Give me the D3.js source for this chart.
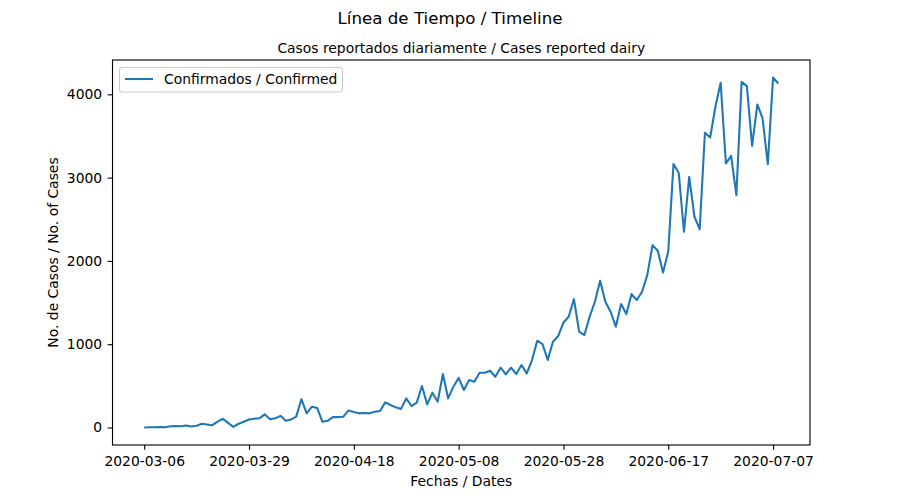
<!DOCTYPE html>
<html>
<head>
<meta charset="utf-8">
<script src="https://cdn.jsdelivr.net/npm/d3@7"></script>
<style>
  html, body { margin: 0; padding: 0; background: #fff; }
  svg { display: block; font-family: "DejaVu Sans", sans-serif; }
</style>
</head>
<body>
<svg id="chart" width="900" height="500"></svg>
<script>
// ---- Data ----
const confirmed = [
  0, 2, 3, 5, 4, 15, 18, 14, 25, 12, 22, 45, 35, 28, 70, 105, 55, 8, 45, 70, 95,
  105, 110, 158, 100, 110, 140, 80, 95, 130, 340, 170, 250, 235, 70, 80, 125, 125, 130, 205, 185,
  170, 175, 170, 190, 198, 302, 270, 242, 222, 350, 258, 298, 498, 278, 418, 310, 642, 350, 490, 595,
  450, 570, 550, 658, 658, 682, 610, 718, 638, 718, 642, 750, 650, 810, 1042, 1002, 810, 1030, 1098, 1260,
  1330, 1542, 1150, 1110, 1330, 1510, 1762, 1510, 1390, 1210, 1482, 1362, 1602, 1530, 1630, 1830, 2190, 2122, 1862, 2112,
  3162, 3058, 2350, 3010, 2530, 2382, 3538, 3482, 3850, 4138, 3170, 3262, 2790, 4150, 4098, 3382, 3878, 3710, 3162, 4202, 4130
];
const xTickIndex = [0, 20, 40, 60, 80, 100, 120];
const xTickLabels = ["2020-03-06", "2020-03-29", "2020-04-18", "2020-05-08", "2020-05-28", "2020-06-17", "2020-07-07"];
const yTicks = [0, 1000, 2000, 3000, 4000];
const suptitle = "Línea de Tiempo / Timeline";
const title = "Casos reportados diariamente / Cases reported dairy";
const xLabel = "Fechas / Dates";
const yLabel = "No. de Casos / No. of Cases";
const seriesName = "Confirmados / Confirmed";

// ---- Layout ----
const W = 900, H = 500;
const mLeft = 112.5, mRight = 810, mTop = 60, mBottom = 445;
const FS = 13.89;
const color = "#1f77b4";

const svg = d3.select("#chart");

const n = confirmed.length;
const xm = (n - 1) * 0.05;
const x = d3.scaleLinear().domain([-xm, n - 1 + xm]).range([mLeft, mRight]);
const ymax = d3.max(confirmed), ymin = d3.min(confirmed);
const ym = (ymax - ymin) * 0.05;
const y = d3.scaleLinear().domain([ymin - ym, ymax + ym]).range([mBottom, mTop]);

// line
const line = d3.line().x((d, i) => x(i)).y(d => y(d));
svg.append("path")
  .datum(confirmed)
  .attr("d", line)
  .attr("fill", "none")
  .attr("stroke", color)
  .attr("stroke-width", 2.08)
  .attr("stroke-linejoin", "round")
  .attr("stroke-linecap", "butt");

// axes
const xAxis = d3.axisBottom(x)
  .tickValues(xTickIndex)
  .tickFormat((d, i) => xTickLabels[i])
  .tickSizeInner(4.86).tickSizeOuter(0).tickPadding(6);
const gx = svg.append("g").attr("transform", `translate(0,${mBottom})`).call(xAxis);
const yAxis = d3.axisLeft(y)
  .tickValues(yTicks)
  .tickFormat(d3.format("d"))
  .tickSizeInner(4.86).tickSizeOuter(0).tickPadding(5.5);
const gy = svg.append("g").attr("transform", `translate(${mLeft},0)`).call(yAxis);

[gx, gy].forEach(g => {
  g.select(".domain").remove();
  g.selectAll(".tick line").attr("stroke", "#000").attr("stroke-width", 1.11);
  g.selectAll(".tick text").attr("fill", "#000")
    .attr("font-family", "DejaVu Sans").attr("font-size", FS);
});

// spines
svg.append("rect")
  .attr("x", mLeft).attr("y", mTop)
  .attr("width", mRight - mLeft).attr("height", mBottom - mTop)
  .attr("fill", "none").attr("stroke", "#000").attr("stroke-width", 1.11);

// titles
svg.append("text").attr("x", W / 2).attr("y", 24)
  .attr("text-anchor", "middle").attr("font-size", 16.67).text(suptitle);
svg.append("text").attr("x", (mLeft + mRight) / 2).attr("y", 53)
  .attr("text-anchor", "middle").attr("font-size", FS).text(title);

// axis labels
svg.append("text").attr("x", (mLeft + mRight) / 2).attr("y", 486)
  .attr("text-anchor", "middle").attr("font-size", FS).text(xLabel);
svg.append("text")
  .attr("transform", `translate(58,${(mTop + mBottom) / 2}) rotate(-90)`)
  .attr("text-anchor", "middle").attr("font-size", FS).text(yLabel);

// legend
const lg = svg.append("g");
lg.append("rect")
  .attr("x", 119.5).attr("y", 67.5).attr("width", 223).attr("height", 24.5)
  .attr("rx", 2.8).attr("ry", 2.8)
  .attr("fill", "#fff").attr("fill-opacity", 0.8)
  .attr("stroke", "#cccccc").attr("stroke-width", 1.11);
lg.append("line")
  .attr("x1", 125).attr("x2", 153).attr("y1", 79).attr("y2", 79)
  .attr("stroke", color).attr("stroke-width", 2.08);
lg.append("text").attr("x", 164).attr("y", 84)
  .attr("font-size", FS).text(seriesName);
</script>
</body>
</html>
